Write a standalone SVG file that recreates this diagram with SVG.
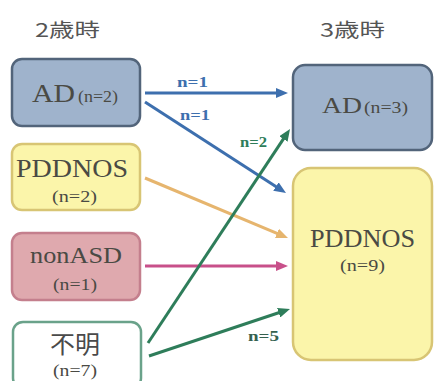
<svg xmlns="http://www.w3.org/2000/svg" width="434" height="381" viewBox="0 0 434 381">
<style>
.box{stroke-width:2.5}
.ad{fill:#9fb3cc;stroke:#52647a}
.pd{fill:#fbf5aa;stroke:#d8c574}
.na{fill:#dfa9ae;stroke:#c47f8d}
.un{fill:#ffffff;stroke:#6aa28a}
.t{fill:#4a4a44}
.h{fill:#555;font-size:19px}
.lb{font-weight:bold;font-size:15px}
.ln{fill:none;stroke-width:3}
</style>
<defs>
<marker id="mb" viewBox="0 0 12 10" refX="4" refY="5" markerWidth="12" markerHeight="10" orient="auto" markerUnits="userSpaceOnUse"><path d="M0,0 L12,5 L0,10 z" fill="#3d6fae"/></marker>
<marker id="mo" viewBox="0 0 12 10" refX="4" refY="5" markerWidth="12" markerHeight="10" orient="auto" markerUnits="userSpaceOnUse"><path d="M0,0 L12,5 L0,10 z" fill="#e6b56e"/></marker>
<marker id="mp" viewBox="0 0 12 10" refX="4" refY="5" markerWidth="12" markerHeight="10" orient="auto" markerUnits="userSpaceOnUse"><path d="M0,0 L12,5 L0,10 z" fill="#c8508a"/></marker>
<marker id="mg" viewBox="0 0 12 10" refX="4" refY="5" markerWidth="12" markerHeight="10" orient="auto" markerUnits="userSpaceOnUse"><path d="M0,0 L12,5 L0,10 z" fill="#2e7d5a"/></marker>
</defs>
<rect width="434" height="381" fill="#ffffff"/>
<g font-family="'Noto Sans CJK JP', 'Noto Sans', sans-serif">
<text class="h" x="35" y="37" textLength="65" lengthAdjust="spacingAndGlyphs">2歳時</text>
<text class="h" x="320" y="37" textLength="65" lengthAdjust="spacingAndGlyphs">3歳時</text>
</g>
<g font-family="'Liberation Serif', 'Times New Roman', serif">
<g id="left-ad">
<rect class="box ad" x="12" y="59" width="128" height="67" rx="10"/>
<text class="t" x="32" y="102" font-size="25" textLength="43" lengthAdjust="spacingAndGlyphs">AD</text>
<text class="t" x="78" y="102" font-size="16" textLength="40" lengthAdjust="spacingAndGlyphs">(n=2)</text>
</g>
<g id="left-pddnos">
<rect class="box pd" x="12" y="144" width="128" height="66" rx="10"/>
<text class="t" x="16" y="177" font-size="26" textLength="112" lengthAdjust="spacingAndGlyphs">PDDNOS</text>
<text class="t" x="52" y="202" font-size="17" textLength="45" lengthAdjust="spacingAndGlyphs">(n=2)</text>
</g>
<g id="left-nonasd">
<rect class="box na" x="12" y="233" width="128" height="67" rx="10"/>
<text class="t" x="30" y="263" font-size="24" textLength="92" lengthAdjust="spacingAndGlyphs">nonASD</text>
<text class="t" x="53" y="290" font-size="17" textLength="44" lengthAdjust="spacingAndGlyphs">(n=1)</text>
</g>
<g id="left-unknown">
<rect class="box un" x="13" y="322" width="128" height="66" rx="10"/>
<text x="50" y="353" font-family="'Noto Sans CJK JP', 'Noto Sans', sans-serif" font-size="24" fill="#4a4a4a" textLength="50" lengthAdjust="spacingAndGlyphs">不明</text>
<text class="t" x="53" y="376" font-size="17" textLength="44" lengthAdjust="spacingAndGlyphs">(n=7)</text>
</g>
<g id="right-ad">
<rect class="box ad" x="293" y="65" width="139" height="85" rx="12"/>
<text class="t" x="322" y="113" font-size="24" textLength="40" lengthAdjust="spacingAndGlyphs">AD</text>
<text class="t" x="364" y="113" font-size="16" textLength="44" lengthAdjust="spacingAndGlyphs">(n=3)</text>
</g>
<g id="right-pddnos">
<rect class="box pd" x="293" y="168" width="139" height="192" rx="18"/>
<text class="t" x="310" y="247" font-size="25" textLength="105" lengthAdjust="spacingAndGlyphs">PDDNOS</text>
<text class="t" x="340" y="271" font-size="17" textLength="45" lengthAdjust="spacingAndGlyphs">(n=9)</text>
</g>

<g id="connectors">
<line class="ln" x1="145" y1="93" x2="280" y2="93" stroke="#3d6fae" marker-end="url(#mb)"/>
<line class="ln" x1="145" y1="102" x2="279.3" y2="188.7" stroke="#3d6fae" marker-end="url(#mb)"/>
<line class="ln" x1="145" y1="178" x2="280.6" y2="234.9" stroke="#e6b56e" stroke-width="2" marker-end="url(#mo)"/>
<line class="ln" x1="145" y1="266" x2="280" y2="266" stroke="#c8508a" marker-end="url(#mp)"/>
<line class="ln" x1="148" y1="343" x2="285.6" y2="135.7" stroke="#2e7d5a" marker-end="url(#mg)"/>
<line class="ln" x1="149" y1="356" x2="282.4" y2="311.5" stroke="#2e7d5a" marker-end="url(#mg)"/>
<text class="lb" x="177" y="87" fill="#3d6fae" textLength="31" lengthAdjust="spacingAndGlyphs">n=1</text>
<text class="lb" x="180" y="120" fill="#3d6fae" textLength="30" lengthAdjust="spacingAndGlyphs">n=1</text>
<text class="lb" x="240" y="147" fill="#2e7d5a" textLength="27" lengthAdjust="spacingAndGlyphs">n=2</text>
<text class="lb" x="248" y="341" fill="#35614f" textLength="31" lengthAdjust="spacingAndGlyphs">n=5</text>
</g>
</g>
</svg>
